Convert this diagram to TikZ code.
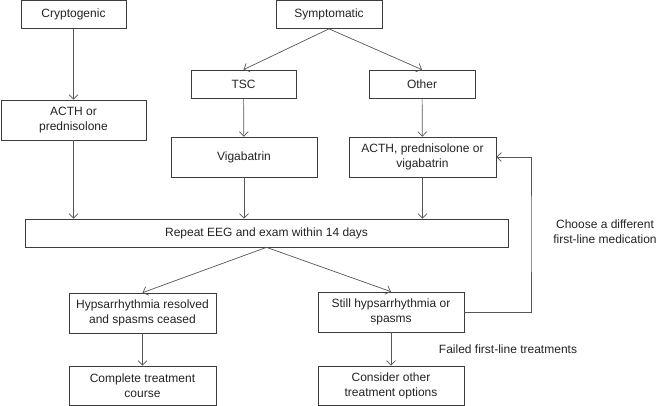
\documentclass[tikz,border=0pt]{standalone}
\usepackage{fontspec}
\setmainfont{Liberation Sans}
\usepackage{xcolor}
\definecolor{ColBox}{RGB}{60,60,60}
\definecolor{ColLine}{RGB}{85,85,85}
\definecolor{ColText}{RGB}{35,35,35}
\usepackage{tikz}
\usetikzlibrary{arrows.meta}
\tikzstyle{Box}=[rectangle,draw=ColBox,line width=0.7pt,inner sep=1pt,
align=center,text=ColText,font=\fontsize{12}{15}\selectfont]
\tikzstyle{Arrow}=[draw=ColLine,line width=0.7pt,
-{Straight Barb[length=4.5pt,width=9pt]}]
\tikzstyle{Note}=[text=ColText,align=center,
font=\fontsize{12}{15}\selectfont]

\begin{document}
\begin{tikzpicture}[x=1pt,y=-1pt]
        \useasboundingbox (0,0) rectangle (671,406);
        \node[Box,minimum width=105pt,minimum height=28pt](crypt)
            at(73.5,14.5){Cryptogenic};
        \node[Box,minimum width=106pt,minimum height=28pt](symp)
            at(329,14.5){Symptomatic};
        \node[Box,minimum width=145pt,minimum height=40pt](acthA)
            at(73.5,120){ACTH or\\prednisolone};
        \node[Box,minimum width=105pt,minimum height=28pt](tsc)
            at(243.5,84){TSC};
        \node[Box,minimum width=106pt,minimum height=28pt](other)
            at(422,84){Other};
        \node[Box,minimum width=146pt,minimum height=40pt](viga)
            at(244,157){Vigabatrin};
        \node[Box,minimum width=147pt,minimum height=40pt](acthB)
            at(422.5,157){ACTH, prednisolone or\\vigabatrin};
        \node[Box,minimum width=483pt,minimum height=28pt](repeat)
            at(266.5,233){Repeat EEG and exam within 14 days};
        \node[Box,minimum width=147pt,minimum height=40pt](hyps)
            at(142.5,313){Hypsarrhythmia resolved\\and spasms ceased};
        \node[Box,minimum width=146pt,minimum height=40pt](still)
            at(391,312){Still hypsarrhythmia or\\spasms};
        \node[Box,minimum width=147pt,minimum height=39pt](complete)
            at(142.5,385.5){Complete treatment\\course};
        \node[Box,minimum width=146pt,minimum height=39pt](consider)
            at(391,385.5){Consider other\\treatment options};
        \node[Note](choose)at(605,232){Choose a different\\first-line medication};
        \node[Note](failed)at(508,349){Failed first-line treatments};
        \coordinate(fb)at(531,233);
        \draw[Arrow](crypt)--(acthA);
        \draw[Arrow](symp.south)--(tsc.north);
        \draw[Arrow](symp.south)--(other.north);
        \draw[Arrow](tsc)--(viga);
        \draw[Arrow](other)--(acthB);
        \draw[Arrow](acthA.south)--(acthA.south|-repeat.north);
        \draw[Arrow](viga.south)--(viga.south|-repeat.north);
        \draw[Arrow](acthB.south)--(acthB.south|-repeat.north);
        \draw[Arrow](repeat.south)--(hyps.north);
        \draw[Arrow](repeat.south)--(still.north);
        \draw[Arrow](hyps)--(complete);
        \draw[Arrow](still)--(consider);
        \draw[Arrow](still.east)-|(fb)|-(acthB.east);
    \end{tikzpicture}
\end{document}
